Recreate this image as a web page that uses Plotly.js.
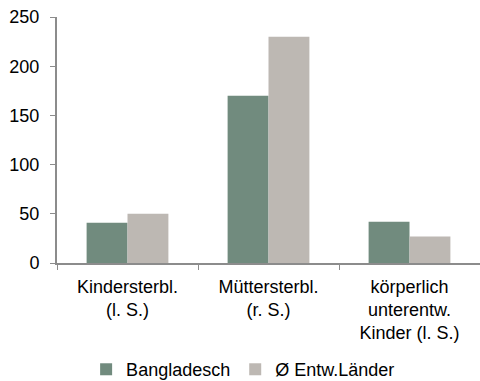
<!DOCTYPE html>
<html>
<head>
<meta charset="utf-8">
<script src="https://cdn.plot.ly/plotly-3.0.1.min.js"></script>
<style>html,body{margin:0;padding:0;background:#fff;}#chart{width:480px;height:381px;}</style>
</head>
<body>
<div id="chart"></div>
<script>
const categories = ["Kindersterbl.<br>(l. S.)", "Müttersterbl.<br>(r. S.)", "körperlich<br>unterentw.<br>Kinder (l. S.)"];
const bangladesch = [41, 170, 42];
const entwLaender = [50, 230, 27];
const yTicks = [0, 50, 100, 150, 200, 250];

const font = {family: "Liberation Sans, Arial, sans-serif", size: 18, color: "#000"};

const data = [
  {type: "bar", name: "Bangladesch", x: categories, y: bangladesch, marker: {color: "#718B7E"}},
  {type: "bar", name: "Ø Entw.Länder", x: categories, y: entwLaender, marker: {color: "#BDB8B3"}}
];

const layout = {
  width: 480, height: 381,
  margin: {l: 57, r: 0, t: 17, b: 118},
  paper_bgcolor: "#fff", plot_bgcolor: "#fff",
  font: font,
  barmode: "group",
  bargap: 0.42,
  bargroupgap: 0,
  showlegend: true,
  legend: {orientation: "h", x: 0.44, xanchor: "center", xref: "paper",
           y: 0.03, yref: "container", yanchor: "middle", font: font, itemwidth: 30, tracegroupgap: 0},
  xaxis: {
    showline: true, linecolor: "#8C8C8C", linewidth: 2,
    ticks: "outside", tickson: "boundaries", ticklen: 5, tickcolor: "#8C8C8C",
    ticklabelstandoff: 6,
    showgrid: false, zeroline: false, tickfont: font, automargin: false
  },
  yaxis: {
    range: [0, 250], tickvals: yTicks, ticktext: yTicks.map(String),
    showline: true, linecolor: "#8C8C8C", linewidth: 2,
    ticks: "outside", ticklen: 5, tickcolor: "#8C8C8C",
    ticklabelstandoff: 7,
    showgrid: false, zeroline: false, tickfont: font, automargin: false
  }
};

Plotly.newPlot("chart", data, layout, {displayModeBar: false, staticPlot: true});
</script>
</body>
</html>
